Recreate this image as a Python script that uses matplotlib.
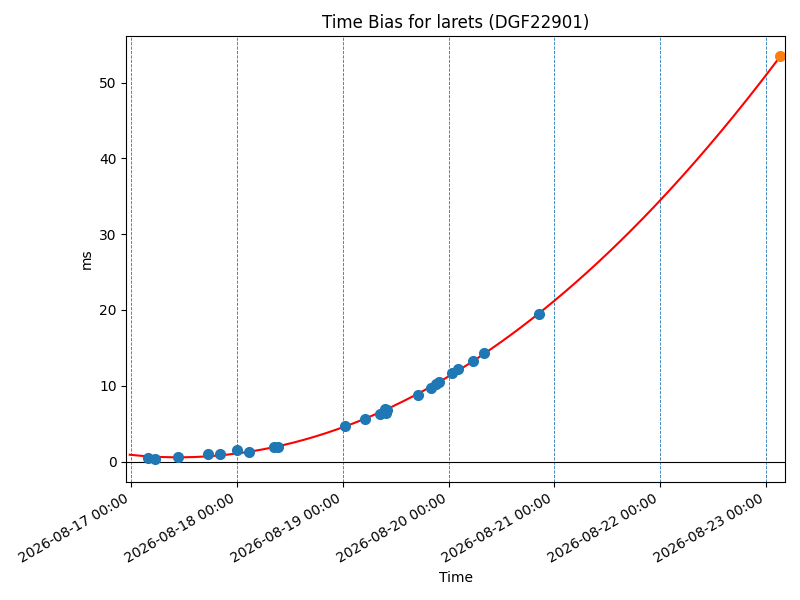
import numpy as np
import matplotlib
matplotlib.use("Agg")
import matplotlib.pyplot as plt
import matplotlib.dates as mdates
from datetime import datetime, timedelta

base = datetime(2026, 8, 17)
# sample times in days after 2026-08-17 00:00 and time bias in ms
obs_days = [0.161, 0.224, 0.444, 0.728, 0.841, 1.002, 1.112, 1.348, 1.389,
            2.022, 2.211, 2.353, 2.404, 2.413, 2.418, 2.712, 2.835, 2.879,
            2.907, 3.032, 3.090, 3.232, 3.333, 3.852]
obs_ms = [0.49, 0.36, 0.62, 0.93, 0.93, 1.46, 1.30, 1.98, 1.98,
          4.72, 5.56, 6.30, 6.97, 6.45, 6.75, 8.82, 9.75, 10.19,
          10.55, 11.62, 12.18, 13.32, 14.38, 19.50]
pred_day = 6.135
fit_start_day = -0.012
xlim_days = [-0.0435, 6.177]
day_lines = [0, 1, 2, 3, 4, 5, 6]

to_dt = lambda d: base + timedelta(days=d)

coef = np.polyfit(obs_days, obs_ms, 2)
t_fit = np.linspace(fit_start_day, pred_day, 300)
y_fit = np.polyval(coef, t_fit)
pred_ms = np.polyval(coef, pred_day)

fig = plt.figure(figsize=(8, 6), dpi=100)
ax = fig.add_axes([0.158, 0.197, 0.823, 0.743])

for d in day_lines:
    ax.axvline(to_dt(d), color='C0', linestyle='--', linewidth=0.6)
ax.axhline(0, color='black', linewidth=0.8)
ax.plot([to_dt(t) for t in t_fit], y_fit, color='red')
ax.plot([to_dt(t) for t in obs_days], obs_ms, 'o', color='C0', markersize=7)
ax.plot([to_dt(pred_day)], [pred_ms], 'o', color='C1', markersize=7)

ax.set_xlim(to_dt(xlim_days[0]), to_dt(xlim_days[1]))
ax.xaxis.set_major_locator(mdates.DayLocator())
ax.xaxis.set_major_formatter(mdates.DateFormatter('%Y-%m-%d %H:%M'))
for lbl in ax.get_xticklabels():
    lbl.set_rotation(30)
    lbl.set_ha('right')

ax.set_title('Time Bias for larets (DGF22901)')
ax.set_xlabel('Time')
ax.set_ylabel('ms')

fig.savefig('out.png', dpi=100)
print(coef, pred_ms, ax.get_ylim())
